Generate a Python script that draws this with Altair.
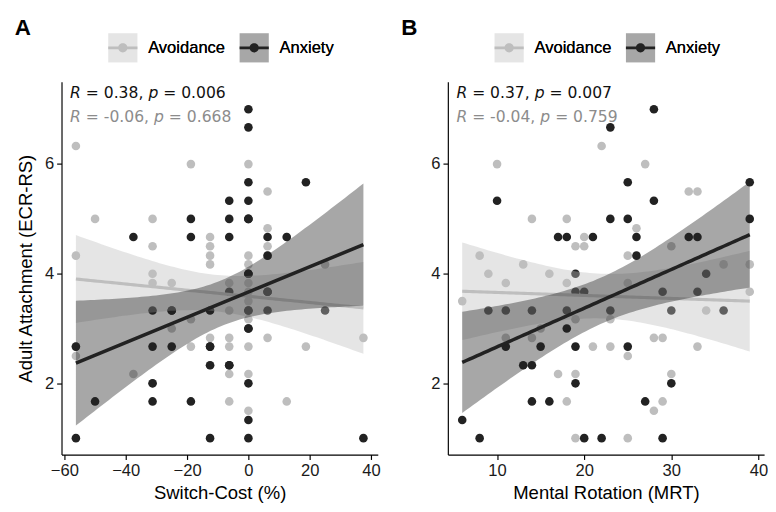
import altair as alt
import pandas as pd
import numpy as np

# ---------------- data (a few overlapped points estimated) ----------------
GROUPS = ["Avoidance", "Anxiety"]
COLORS = ["#bebebe", "#222222"]

# Panel A: Switch-Cost (%)
a_anx_x = [-37.5, -18.75, -18.75, -6.25, 6.25, 12.5, 6.25, 0, -6.25, 6.25, -31.25, -25, -12.5, 0, 6.25, 25,
           0, -56.25, -31.25, -25, -12.5, -12.5, -6.25, -31.25, -50, -31.25, -18.75, -56.25, -12.5, 0, 0, 0,
           0, 0, 0, 18.75, -6.25, 0, -6.25, 0, 37.5,
           0, 0, 0, -6.25, 6.25, -12.5, -25, 0]
a_anx_y = [4.67, 5, 4.67, 4.67, 4.67, 4.67, 4.33, 4, 3.67, 3.67, 3.33, 3.33, 3.33, 3.33, 3.33, 3.33,
           3, 2.67, 2.67, 2.67, 2.67, 2.33, 2.33, 2, 1.67, 1.67, 1.67, 1, 1, 2, 1.33, 1,
           7, 6.67, 5.67, 5.67, 5.33, 5.33, 5, 5, 1,
           4, 3.33, 5, 2.33, 3.67, 2.67, 3.33, 3]
a_avo_x = [-56.25, -18.75, -50, -31.25, -12.5, -12.5, -12.5, -12.5, -31.25, -56.25, -31.25, -31.25, -25,
           6.25, 0, 0, -6.25, 25, -18.75, -6.25, 0, -25, -56.25, -18.75, -12.5, -37.5, -6.25, 6.25, -6.25,
           0, 18.75, -6.25, 0, -6.25, 12.5, 0, 0, 6.25, 6.25, 37.5, 0, 0, 0,
           -56.25, -31.25, -12.5, 0, 6.25, 12.5, 0, 6.25]
a_avo_y = [6.33, 6, 5, 5, 4.67, 4.5, 4.33, 4.17, 4.5, 4.33, 4, 3.83, 3.83,
           4.5, 4.33, 4.17, 3.83, 4.17, 3.17, 3.33, 3.17, 3, 2.5, 2.67, 2.83, 2.17, 2.83, 2.83, 2.67,
           2.67, 2.67, 2.17, 2.17, 1.67, 1.67, 1.5, 6, 5.5, 4.83, 2.83, 3.83, 3.67, 3.5,
           2.67, 2, 2.33, 4, 4.33, 4.67, 5, 3.67]

# Panel B: Mental Rotation (MRT)
b_anx_x = [10, 17, 18, 21, 19, 26, 32, 33, 26, 34, 19, 20, 29, 33, 9, 11, 14, 18, 23, 30, 36, 18, 11, 15, 19,
           13, 14, 19, 14, 16, 6, 8, 20, 25, 30, 27, 22, 29, 28, 23, 25, 39, 28, 23, 25, 39]
b_anx_y = [5.33, 4.67, 4.67, 4.67, 4, 4.67, 4.67, 4.67, 4.33, 4, 3.67, 3.67, 3.67, 3.67, 3.33, 3.33, 3.33, 3.33,
           3.33, 3.33, 3.33, 3, 2.67, 2.67, 2.67, 2.33, 2.33, 2, 1.67, 1.67, 1.33, 1, 1, 2.67, 2, 1.67, 1, 1,
           7, 6.67, 5.67, 5.67, 5.33, 5, 5, 5]
b_avo_x = [10, 14, 18, 20, 19, 20, 8, 9, 13, 16, 11, 18, 30, 25, 36, 39, 25, 39, 6, 34, 19, 23, 11, 14, 15,
           21, 17, 19, 18, 19, 23, 25, 28, 29, 33, 30, 29, 28, 25, 22, 27, 32, 33, 26]
b_avo_y = [6, 5, 5, 4.67, 4.5, 4.5, 4.33, 4, 4.17, 4, 3.83, 3.83, 4.5, 4.33, 4.17, 4.17, 3.83, 3.67, 3.5, 3.33,
           3.17, 3.17, 2.83, 2.83, 3, 2.67, 2.17, 2.17, 1.67, 1, 2.67, 2.5, 2.83, 2.83, 2.67, 2.17, 1.67, 1.5, 1,
           6.33, 6, 5.5, 5.5, 4.83]

# correlation labels (text as printed in the figure)
a_stats = [["R", "= 0.38,", "p", "= 0.006"], ["R", "= -0.06,", "p", "= 0.668"]]
b_stats = [["R", "= 0.37,", "p", "= 0.007"], ["R", "= -0.04,", "p", "= 0.759"]]
stat_label_y = [7.29, 6.86]

a_ticks = [-60, -40, -20, 0, 20, 40]
b_ticks = [10, 20, 30, 40]
y_ticks = [2, 4, 6]
Y_DOMAIN = [0.7, 7.5]

# ---------------- helpers ----------------
LINE_PATH = ("M-1,-0.09H1V0.09H-1Z M0.32,0A0.32,0.32,0,1,1,-0.32,0A0.32,0.32,0,1,1,0.32,0Z")
LEG_COMMON = dict(orient="none", legendX=48, legendY=-50, direction="horizontal", title=None,
                  labelFont="Liberation Sans", labelFontSize=17, labelColor="black",
                  symbolSize=900, labelOffset=11, columnPadding=14, padding=0, symbolStrokeWidth=0)


def fit_band(xs, ys, grp):
    x = np.array(xs, float)
    y = np.array(ys, float)
    n = len(x)
    xb = x.mean()
    sxx = ((x - xb) ** 2).sum()
    b = ((x - xb) * (y - y.mean())).sum() / sxx
    a = y.mean() - b * xb
    s = np.sqrt(((y - (a + b * x)) ** 2).sum() / (n - 2))
    g = np.linspace(x.min(), x.max(), 80)
    fit = a + b * g
    se = s * np.sqrt(1.0 / n + (g - xb) ** 2 / sxx)
    t = 2.01
    return pd.DataFrame({"x": g, "fit": fit, "lo": fit - t * se, "hi": fit + t * se,
                         "band_group": grp + " band"})


def panel(anx_x, anx_y, avo_x, avo_y, ticks, xtitle, ytitle, stats, label):
    allx = anx_x + avo_x
    lo, hi = min(allx), max(allx)
    ex = 0.05 * (hi - lo)
    xscale = alt.Scale(domain=[lo - ex, hi + ex], nice=False, zero=False)
    yscale = alt.Scale(domain=Y_DOMAIN, nice=False, zero=False)
    xaxis = alt.Axis(values=ticks, title=xtitle, titlePadding=6, format="d")
    if ytitle:
        yaxis = alt.Axis(values=y_ticks, title=ytitle, titlePadding=9, format="d")
    else:
        yaxis = alt.Axis(values=y_ticks, title=None, format="d")

    pts = pd.DataFrame({"x": avo_x + anx_x, "y": avo_y + anx_y,
                        "group": ["Avoidance"] * len(avo_x) + ["Anxiety"] * len(anx_x)})
    points = alt.Chart(pts).mark_circle(size=78, opacity=1).encode(
        x=alt.X("x:Q", scale=xscale, axis=xaxis),
        y=alt.Y("y:Q", scale=yscale, axis=yaxis),
        color=alt.Color("group:N", scale=alt.Scale(domain=GROUPS, range=COLORS),
                        legend=alt.Legend(symbolType=LINE_PATH, **LEG_COMMON)),
    )
    layers = [points]
    for grp, col, xs, ys, lw in [("Avoidance", COLORS[0], avo_x, avo_y, 3.2),
                                 ("Anxiety", COLORS[1], anx_x, anx_y, 3.6)]:
        bd = fit_band(xs, ys, grp)
        band = alt.Chart(bd).mark_area(opacity=0.4).encode(
            x=alt.X("x:Q", scale=xscale),
            y=alt.Y("lo:Q", scale=yscale),
            y2="hi:Q",
            fill=alt.Fill("band_group:N",
                          scale=alt.Scale(domain=[g + " band" for g in GROUPS], range=COLORS),
                          legend=alt.Legend(symbolType="square", symbolOpacity=0.4,
                                            labelExpr="replace(datum.label, ' band', '')", **LEG_COMMON)),
        )
        line = alt.Chart(bd).mark_line(color=col, strokeWidth=lw).encode(
            x=alt.X("x:Q", scale=xscale),
            y=alt.Y("fit:Q", scale=yscale),
        )
        layers += [band, line]

    # correlation labels with italic R and p
    offsets = [[0, 16.2, 80.5, 95.7], [0, 16.2, 86.3, 101.5]]
    tcolors = ["#111111", "#8c8c8c"]
    for r, row in enumerate(stats):
        for k, seg in enumerate(row):
            dft = pd.DataFrame({"x": [lo], "y": [stat_label_y[r]], "t": [seg]})
            layers.append(alt.Chart(dft).mark_text(
                align="left", baseline="middle", dx=offsets[r][k] - 6, font="DejaVu Sans", fontSize=16,
                fontStyle="italic" if k in (0, 2) else "normal", color=tcolors[r]).encode(
                x=alt.X("x:Q", scale=xscale), y=alt.Y("y:Q", scale=yscale), text="t:N"))

    return alt.layer(*layers).properties(
        width=325, height=383,
        title=alt.TitleParams(label, anchor="start", frame="group", fontSize=23, fontWeight="bold",
                              font="Liberation Sans", dx=-48, offset=0, dy=7, color="black"))


pa = panel(a_anx_x, a_anx_y, a_avo_x, a_avo_y, a_ticks, "Switch-Cost (%)", "Adult Attachment (ECR-RS)",
           a_stats, "A")
pb = panel(b_anx_x, b_anx_y, b_avo_x, b_avo_y, b_ticks, "Mental Rotation (MRT)", None, b_stats, "B")

chart = alt.hconcat(pa, pb, spacing=21).resolve_scale(
    color="independent", fill="independent", x="independent", y="independent"
).resolve_legend(color="independent", fill="independent").properties(
    padding={"left": 7, "top": 3, "right": 0, "bottom": 0}
).configure_view(stroke=None).configure_axis(
    domainColor="black", domainWidth=1.2, tickColor="black", tickWidth=1.2, tickSize=5,
    labelColor="#1a1a1a", labelFont="Liberation Sans", labelFontSize=17, labelPadding=3,
    titleFont="Liberation Sans", titleFontSize=19, titleFontWeight="normal", titleColor="black", grid=False,
)

chart.save("out.html", embed_options={"renderer": "svg", "actions": False})
